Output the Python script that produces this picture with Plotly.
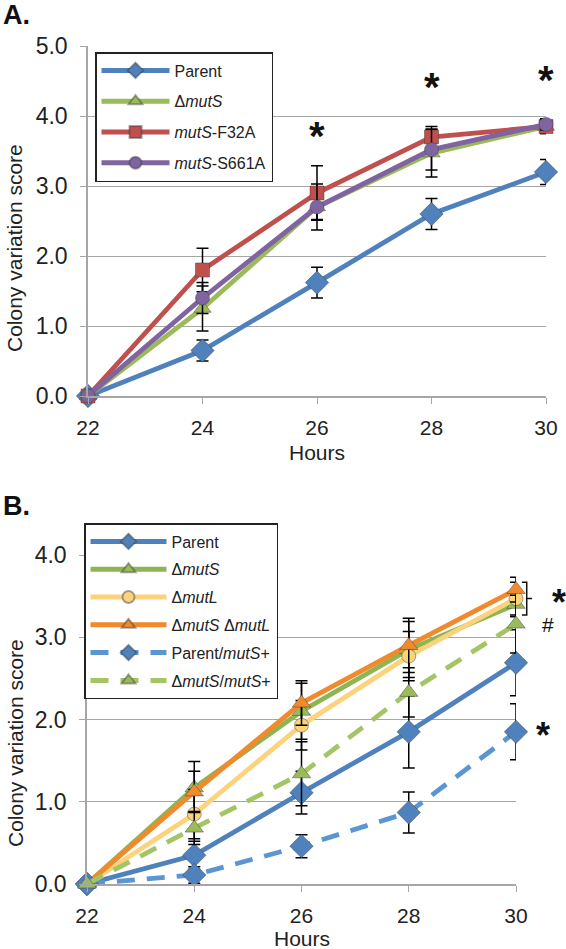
import plotly.graph_objects as go

W, H = 566, 949
FONT = "Liberation Sans"

# ---------------- data ----------------
hours = [22, 24, 26, 28, 30]
tick_hours = [22, 24, 26, 28, 30]
yticks_a = [0, 1, 2, 3, 4, 5]
yticks_b = [0, 1, 2, 3, 4]

# Panel A
parent_a = [0, 0.65, 1.62, 2.60, 3.20]
parent_a_err = [0, 0.15, 0.22, 0.22, 0.18]
dmuts_a = [0, 1.25, 2.70, 3.47, 3.85]
dmuts_a_err = [0, 0.32, 0.18, 0.34, 0.10]
f32a_a = [0, 1.80, 2.90, 3.70, 3.85]
f32a_a_err = [0, 0.31, 0.39, 0.15, 0.10]
s661a_a = [0, 1.40, 2.70, 3.52, 3.88]
s661a_a_err = [0, 0.22, 0.33, 0.29, 0.08]

# Panel B
parent_b = [0, 0.35, 1.11, 1.85, 2.69]
parent_b_err = [0, 0.17, 0.26, 0.44, 0.40]
dmuts_b = [0, 1.17, 2.10, 2.85, 3.40]
dmuts_b_err = [0, 0.32, 0.34, 0.34, 0.15]
dmutl_b = [0, 0.85, 1.93, 2.77, 3.47]
dmutl_b_err = [0, 0.30, 0.30, 0.30, 0.20]
dmutsl_b = [0, 1.12, 2.20, 2.90, 3.58]
dmutsl_b_err = [0, 0.25, 0.27, 0.33, 0.15]
parent_comp_b = [0, 0.11, 0.46, 0.87, 1.85]
parent_comp_b_err = [0, 0.10, 0.14, 0.25, 0.34]
dmuts_comp_b = [0, 0.68, 1.34, 2.33, 3.16]
dmuts_comp_b_err = [0, 0.20, 0.39, 0.30, 0.35]

# significance marks (hours, score, text)
stars_a = [(26, 3.72, "*"), (28, 4.41, "*"), (30, 4.52, "*")]
stars_b = [(30.80, 3.42, "*"), (30.50, 1.80, "*"), (30.60, 3.15, "#")]
bracket_b = (30.11, 30.20, 30.30, 3.27, 3.67)  # x_left, x_mid, x_tip, y_low, y_high

BLUE = "#4F81BD"
GREEN = "#9BBB59"
RED = "#C0504D"
PURPLE = "#8064A2"
YELLOW = "#FCD37C"
ORANGE = "#F08A2C"
LBLUE = "#5A96D2"
LGREEN = "#A3C565"

# pixel frames of the two plot areas
A_X0, A_X1, A_Y0, A_Y1 = 88, 546, 396, 46
B_X0, B_X1, B_Y0, B_Y1 = 87, 516, 884, 555


def px(x):
    return x / W


def py(y):
    return 1 - y / H


def b_paper(h, v):
    """panel-B data value -> paper coords (for marks outside the axis range)"""
    xp = B_X0 + (h - 22) / 8 * (B_X1 - B_X0)
    yp = B_Y0 + v / 4 * (B_Y1 - B_Y0)
    return px(xp), py(yp)


fig = go.Figure()


def add(name, y, err, color, symbol, size, xa, ya, legend, dash="solid", mcolor=None):
    mcolor = mcolor or color
    fig.add_trace(go.Scatter(
        x=hours, y=y, name=name, mode="lines+markers",
        xaxis=xa, yaxis=ya, legend=legend, legendgroup=name + legend,
        line=dict(color=color, width=4.8, dash=dash),
        marker=dict(symbol=symbol, size=size, color=mcolor,
                    line=dict(color="rgba(60,60,60,0.45)", width=1)),
        error_y=dict(type="data", array=err, color="black", thickness=1.5, width=6),
        cliponaxis=False,
    ))


add("Parent", parent_a, parent_a_err, BLUE, "diamond", 18, "x", "y", "legend")
add("Δ<i>mutS</i>", dmuts_a, dmuts_a_err, GREEN, "triangle-up", 15, "x", "y", "legend")
add("<i>mutS</i>-F32A", f32a_a, f32a_a_err, RED, "square", 14, "x", "y", "legend")
add("<i>mutS</i>-S661A", s661a_a, s661a_a_err, PURPLE, "circle", 14, "x", "y", "legend")

add("Parent", parent_b, parent_b_err, BLUE, "diamond", 18, "x2", "y2", "legend2")
add("Δ<i>mutS</i>", dmuts_b, dmuts_b_err, "#8DB552", "triangle-up", 16, "x2", "y2", "legend2", mcolor=GREEN)
add("Δ<i>mutL</i>", dmutl_b, dmutl_b_err, YELLOW, "circle", 14, "x2", "y2", "legend2")
add("Δ<i>mutS</i> Δ<i>mutL</i>", dmutsl_b, dmutsl_b_err, ORANGE, "triangle-up", 16, "x2", "y2", "legend2")
add("Parent/<i>mutS</i>+", parent_comp_b, parent_comp_b_err, LBLUE, "diamond", 18, "x2", "y2", "legend2",
    dash="18px,12px", mcolor=BLUE)
add("Δ<i>mutS</i>/<i>mutS</i>+", dmuts_comp_b, dmuts_comp_b_err, LGREEN, "triangle-up", 16, "x2", "y2", "legend2",
    dash="18px,12px", mcolor=GREEN)

GRID = "#A6A6A6"
xcommon = dict(range=[22, 30], tickvals=tick_hours, showgrid=False, showline=True, linecolor=GRID,
               linewidth=1.5, ticks="outside", ticklen=6, tickcolor=GRID, zeroline=False,
               tickfont=dict(family=FONT, size=21, color="#222"), automargin=False,
               ticklabelstandoff=6)
ycommon = dict(showgrid=True, gridcolor=GRID, gridwidth=1.2, showline=True, linecolor=GRID,
               linewidth=1.5, ticks="outside", ticklen=6, tickcolor=GRID, zeroline=False,
               tickformat=".1f", tickfont=dict(family=FONT, size=23, color="#222"),
               automargin=False, ticklabelstandoff=8)

LEGFONT = dict(family=FONT, size=16, color="#222", weight="normal")
fig.update_layout(
    width=W, height=H, margin=dict(l=0, r=0, t=0, b=0),
    paper_bgcolor="white", plot_bgcolor="white", showlegend=True,
    xaxis=dict(domain=[px(A_X0), px(A_X1)], anchor="y", **xcommon),
    yaxis=dict(domain=[py(A_Y0), py(A_Y1)], anchor="x", range=[0, 5], tickvals=yticks_a, **ycommon),
    xaxis2=dict(domain=[px(B_X0), px(B_X1)], anchor="y2", **xcommon),
    yaxis2=dict(domain=[py(B_Y0), py(B_Y1)], anchor="x2", range=[0, 4], tickvals=yticks_b, **ycommon),
    legend=dict(x=px(95), y=py(52), xanchor="left", yanchor="top", bgcolor="white",
                bordercolor="#222", borderwidth=1.5, font=LEGFONT,
                tracegroupgap=7, itemsizing="constant", itemwidth=68),
    legend2=dict(x=px(84), y=py(523), xanchor="left", yanchor="top", bgcolor="white",
                 bordercolor="#222", borderwidth=1.5, font=LEGFONT,
                 tracegroupgap=4, itemsizing="constant", itemwidth=76),
)

ann = []
ann.append(dict(text="<b>A.</b>", x=px(1), y=py(15), xref="paper", yref="paper", xanchor="left",
                yanchor="middle", showarrow=False, font=dict(family=FONT, size=27, color="#111")))
ann.append(dict(text="<b>B.</b>", x=px(1), y=py(506), xref="paper", yref="paper", xanchor="left",
                yanchor="middle", showarrow=False, font=dict(family=FONT, size=27, color="#111")))
for yc in (248, 743):
    ann.append(dict(text="Colony variation score", x=px(15), y=py(yc), xref="paper", yref="paper",
                    textangle=-90, showarrow=False, xanchor="center", yanchor="middle",
                    font=dict(family=FONT, size=21, color="#222")))
ann.append(dict(text="Hours", x=px(317), y=py(453), xref="paper", yref="paper", showarrow=False,
                xanchor="center", yanchor="middle", font=dict(family=FONT, size=21, color="#222")))
ann.append(dict(text="Hours", x=px(302), y=0, xref="paper", yref="paper", showarrow=False,
                xanchor="center", yanchor="bottom", yshift=-3, font=dict(family=FONT, size=21, color="#222")))
for x, y, t in stars_a:
    ann.append(dict(text="<b>" + t + "</b>", x=x, y=y, xref="x", yref="y", showarrow=False,
                    xanchor="center", yanchor="middle", font=dict(family=FONT, size=40, color="#111")))
for x, y, t in stars_b:
    xp, yp = b_paper(x, y)
    ann.append(dict(text=("<b>" + t + "</b>") if t == "*" else t, x=xp, y=yp, xref="paper", yref="paper",
                    showarrow=False, xanchor="center", yanchor="middle",
                    font=dict(family=FONT, size=36 if t == "*" else 21, color="#111")))
fig.update_layout(annotations=ann)

bx0, bxm, bxt, by0, by1 = bracket_b
p_tl = b_paper(bx0, by1)
p_tm = b_paper(bxm, by1)
p_bm = b_paper(bxm, by0)
p_bl = b_paper(bx0, by0)
p_mm = b_paper(bxm, (by0 + by1) / 2)
p_mt = b_paper(bxt, (by0 + by1) / 2)
path = (f"M {p_tl[0]} {p_tl[1]} L {p_tm[0]} {p_tm[1]} L {p_bm[0]} {p_bm[1]} L {p_bl[0]} {p_bl[1]} "
        f"M {p_mm[0]} {p_mm[1]} L {p_mt[0]} {p_mt[1]}")
fig.add_shape(type="path", xref="paper", yref="paper", path=path, line=dict(color="#111", width=1.5))

fig.write_html("out.html", config={"displayModeBar": False},
               post_script="document.body.style.margin='0';document.body.style.overflow='hidden';")
